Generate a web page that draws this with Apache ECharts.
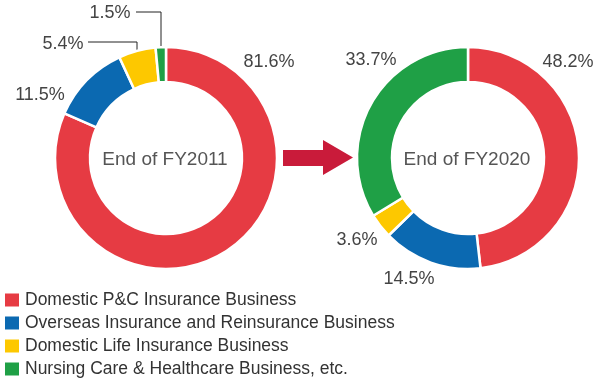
<!DOCTYPE html>
<html>
<head>
<meta charset="utf-8">
<script src="https://cdn.jsdelivr.net/npm/echarts@6/dist/echarts.min.js"></script>
<style>
html,body{margin:0;padding:0;background:#fff;}
#c{width:600px;height:383px;}
</style>
</head>
<body>
<div id="c"></div>
<script>
const categories = [
  'Domestic P&C Insurance Business',
  'Overseas Insurance and Reinsurance Business',
  'Domestic Life Insurance Business',
  'Nursing Care & Healthcare Business, etc.'
];
const fy2011 = [81.6, 11.5, 5.4, 1.5];
const fy2020 = [48.2, 14.5, 3.6, 33.7];
const pieTitles = ['End of FY2011', 'End of FY2020'];

const colors = ['#e63b43', '#0b69b1', '#fdc800', '#1fa046'];
const FONT = '"Liberation Sans", Arial, Helvetica, sans-serif';

// label placement (centers) and leader lines, per series & data index
const labelPos = [
  [[269, 62], [40, 95], [63, 44], [110, 13]],
  [[568, 62], [409, 279], [357, 240], [371, 60]]
];
const leaderLines = [
  [null, null, [[137, 68], [137, 42], [88, 42]], [[161, 80], [161, 12], [136, 12]]],
  [null, null, null, null]
];

function makeSeries(idx, values, center) {
  return {
    type: 'pie',
    center: center,
    radius: [76, 111],
    startAngle: 90,
    clockwise: true,
    avoidLabelOverlap: false,
    animation: false,
    silent: true,
    itemStyle: { borderColor: '#fff', borderWidth: 2.5 },
    label: {
      show: true,
      position: 'outside',
      formatter: p => p.value.toFixed(1) + '%',
      color: '#444',
      fontFamily: FONT,
      fontSize: 18
    },
    labelLine: { show: false, lineStyle: { color: '#222', width: 1 } },
    labelLayout: function (p) {
      const pos = labelPos[idx][p.dataIndex];
      const res = { x: pos[0], y: pos[1], align: 'center', verticalAlign: 'middle' };
      const ll = leaderLines[idx][p.dataIndex];
      if (ll) res.labelLinePoints = ll;
      return res;
    },
    data: categories.map((name, i) => ({
      name: name,
      value: values[i],
      itemStyle: { color: colors[i] },
      labelLine: { show: !!leaderLines[idx][i], lineStyle: { color: '#222', width: 1 } }
    }))
  };
}

const chart = echarts.init(document.getElementById('c'), null, { renderer: 'canvas' });
chart.setOption({
  backgroundColor: '#fff',
  animation: false,
  color: colors,
  legend: {
    orient: 'vertical',
    left: 3,
    top: 291,
    height: 100,
    padding: 0,
    icon: 'rect',
    itemWidth: 16,
    itemHeight: 15,
    itemGap: 5,
    selectedMode: false,
    data: categories,
    textStyle: { color: '#333', fontSize: 17.5, fontFamily: FONT, lineHeight: 15, padding: [0, 0, 0, 0] }
  },
  graphic: [
    {
      type: 'text',
      x: 165, y: 160,
      style: { text: pieTitles[0], fill: '#555', font: '19px ' + FONT, align: 'center', verticalAlign: 'middle' },
      silent: true
    },
    {
      type: 'polygon',
      shape: { points: [[283, 150], [323, 150], [323, 140], [353, 157.5], [323, 175], [323, 166], [283, 166]] },
      style: { fill: '#c91b3a' },
      silent: true
    },
    {
      type: 'text',
      x: 467, y: 160,
      style: { text: pieTitles[1], fill: '#555', font: '19px ' + FONT, align: 'center', verticalAlign: 'middle' },
      silent: true
    }
  ],
  series: [
    makeSeries(0, fy2011, [166, 158]),
    makeSeries(1, fy2020, [468, 158])
  ]
});
</script>
</body>
</html>
